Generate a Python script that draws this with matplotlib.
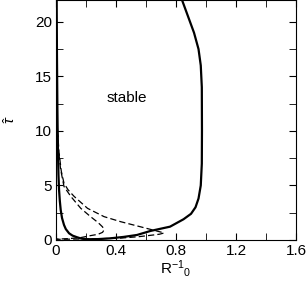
import matplotlib.pyplot as plt
from matplotlib.ticker import MultipleLocator, FuncFormatter

plt.rcParams['font.family'] = ['Liberation Sans', 'DejaVu Sans']
plt.rcParams['mathtext.fontset'] = 'custom'
plt.rcParams['mathtext.rm'] = 'Liberation Sans'
plt.rcParams['mathtext.it'] = 'Liberation Sans:italic'

# stability boundary (solid)
solid_r = [0.84, 0.88, 0.92, 0.95, 0.965, 0.972, 0.973, 0.972, 0.965, 0.95, 0.93,
           0.90, 0.85, 0.76, 0.63, 0.54, 0.45, 0.36, 0.28, 0.21, 0.17, 0.14,
           0.11, 0.087, 0.065, 0.053, 0.04, 0.031, 0.025, 0.02, 0.016, 0.012,
           0.009, 0.006, 0.004]
solid_tau = [22.0, 20.5, 19.0, 17.5, 16.0, 14.0, 10.0, 7.0, 5.0, 3.8, 3.0,
             2.4, 1.9, 1.22, 0.83, 0.46, 0.28, 0.15, 0.08, 0.07, 0.12, 0.25,
             0.4, 0.61, 1.0, 1.38, 2.0, 2.75, 3.6, 4.6, 6.0, 8.5,
             12.0, 17.0, 22.0]

# inner dashed curve
dash1_r = [0.008, 0.015, 0.03, 0.053, 0.098, 0.165, 0.23, 0.28, 0.31, 0.32,
           0.31, 0.28, 0.23, 0.165, 0.08, 0.0]
dash1_tau = [10.5, 8.5, 6.5, 4.9, 4.0, 2.9, 2.14, 1.6, 1.2, 0.92,
             0.7, 0.52, 0.4, 0.22, 0.12, 0.08]

# outer dashed curve
dash2_r = [0.01, 0.02, 0.035, 0.053, 0.08, 0.12, 0.21, 0.32, 0.43, 0.56, 0.65,
           0.70, 0.72, 0.69, 0.65, 0.55, 0.43, 0.25, 0.0]
dash2_tau = [10.0, 8.0, 6.3, 5.2, 4.6, 4.0, 2.9, 2.14, 1.68, 1.22, 0.9,
             0.72, 0.64, 0.53, 0.46, 0.3, 0.17, 0.1, 0.06]

fig = plt.figure(figsize=(3.08, 2.84), dpi=100)
ax = fig.add_axes([0.182, 0.155, 0.779, 0.845])

ax.plot(solid_r, solid_tau, color='black', lw=1.6)
ax.plot(dash1_r, dash1_tau, color='black', lw=0.9, ls=(0, (5, 2.5)))
ax.plot(dash2_r, dash2_tau, color='black', lw=0.9, ls=(0, (5, 2.5)))

ax.text(0.47, 13.0, 'stable', fontsize=11, ha='center', va='center')

ax.set_xlim(0, 1.6)
ax.set_ylim(0, 22)
ax.xaxis.set_major_locator(MultipleLocator(0.4))
ax.xaxis.set_minor_locator(MultipleLocator(0.2))
ax.yaxis.set_major_locator(MultipleLocator(5))
ax.yaxis.set_minor_locator(MultipleLocator(2.5))
ax.xaxis.set_major_formatter(FuncFormatter(lambda v, p: '0' if v == 0 else f'{v:.1f}'))
ax.tick_params(which='both', direction='in', top=True, right=True, labelsize=11, pad=3)
ax.tick_params(which='major', length=5)
ax.tick_params(which='minor', length=5)

ax.set_xlabel(r'R$^{\mathregular{-1}}$$_{\mathregular{0}}$', fontsize=11, labelpad=0)
ax.set_ylabel(r'$\hat{\tau}$', fontsize=11, labelpad=12)

fig.savefig('out.png', dpi=100)
